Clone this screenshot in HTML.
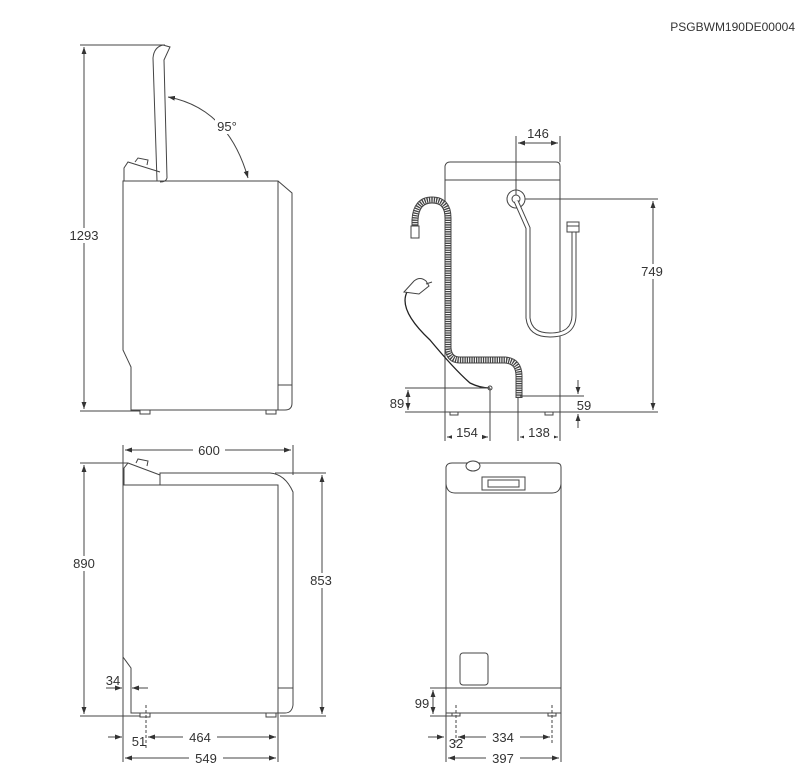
<!DOCTYPE html>
<html><head><meta charset="utf-8"><style>
html,body{margin:0;padding:0;background:#fff}
svg{display:block}
text{font-family:"Liberation Sans",sans-serif;font-size:13px;fill:#333}
</style></head><body>
<svg width="800" height="780" viewBox="0 0 800 780" xmlns="http://www.w3.org/2000/svg">
<defs>
<marker id="a" viewBox="0 0 10 10" refX="10" refY="5" markerWidth="7" markerHeight="7" orient="auto-start-reverse"><path d="M0,1.5 L10,5 L0,8.5 z" fill="#333"/></marker>
</defs>
<text x="795" y="31" text-anchor="end" style="font-size:12px">PSGBWM190DE00004</text>

<g fill="none" stroke="#444" stroke-width="1">
<line x1="80" y1="45" x2="165" y2="45"/>
<line x1="84" y1="47" x2="84" y2="409" marker-start="url(#a)" marker-end="url(#a)"/>
<line x1="80" y1="411" x2="140" y2="411"/>
<path d="M123,181 L123,350 L131,367 L131,410 L278,410 L278,181 Z"/>
<path d="M278,181 L292,193 L292,403 Q292,410 285,410 L278,410"/>
<line x1="278" y1="385" x2="292" y2="385"/>
<path d="M124,181 L124,168 L128,162 L160,172"/>
<path d="M135,162 L138,158 L148,160 L147,165"/>
<path d="M157,181 L153,58 Q154,47 163,45 L170,47 L164,60 L167,178 Q166,182 160,182"/>
<rect x="140" y="410" width="10" height="4"/><rect x="266" y="410" width="10" height="4"/>
<path d="M168,97 Q228,108 248,178" marker-start="url(#a)" marker-end="url(#a)"/>

<path d="M445,412 L445,166 Q446,162 450,162 L556,162 Q560,162 560,166 L560,412 Z"/>
<line x1="445" y1="180" x2="560" y2="180"/>
<rect x="450" y="412" width="8" height="3"/><rect x="545" y="412" width="8" height="3"/>
<circle cx="516" cy="199" r="9"/><circle cx="516" cy="199" r="4"/>
<line x1="516" y1="136" x2="516" y2="195"/>
<line x1="560" y1="136" x2="560" y2="162"/>
<line x1="518" y1="143" x2="558" y2="143" marker-start="url(#a)" marker-end="url(#a)"/>
<line x1="525" y1="199" x2="658" y2="199"/>
<line x1="405" y1="412" x2="658" y2="412"/>
<line x1="653" y1="201" x2="653" y2="410" marker-start="url(#a)" marker-end="url(#a)"/>
<path d="M516,201 L528,228 L528,318 Q530,335 550,335 Q574,335 574,315 L574,232" stroke-width="5" stroke="#444"/>
<path d="M516,201 L528,228 L528,318 Q530,335 550,335 Q574,335 574,315 L574,232" stroke-width="3" stroke="#fff"/>
<rect x="567" y="222" width="12" height="10" fill="#fff"/>
<line x1="567" y1="226" x2="579" y2="226"/>
<path d="M415,238 L415,220 Q416,200 432,200 Q448,200 448,218 L448,348 Q449,360 460,360 L505,360 Q519,361 519,376 L519,398" stroke="#444" stroke-width="7"/>
<path d="M415,238 L415,220 Q416,200 432,200 Q448,200 448,218 L448,348 Q449,360 460,360 L505,360 Q519,361 519,376 L519,398" stroke="#fff" stroke-width="5" stroke-dasharray="1 1.3"/>
<rect x="411" y="226" width="8" height="12" fill="#fff"/>
<path d="M407,292 Q398,310 430,340 Q455,370 470,383 Q480,388 490,388" stroke="#222" stroke-width="1.3"/>
<path d="M404,292 L414,281 Q420,276 426,281 L429,286 L419,294 Z" fill="#fff"/>
<line x1="426" y1="284" x2="432" y2="282"/>
<circle cx="490" cy="388" r="2"/>
<line x1="405" y1="388" x2="490" y2="388"/>
<line x1="408" y1="390" x2="408" y2="410" marker-start="url(#a)" marker-end="url(#a)"/>
<line x1="490" y1="388" x2="490" y2="441"/>
<line x1="445" y1="412" x2="445" y2="441"/>
<line x1="447" y1="437" x2="488" y2="437" marker-start="url(#a)" marker-end="url(#a)"/>
<line x1="518" y1="398" x2="518" y2="441"/>
<line x1="560" y1="412" x2="560" y2="441"/>
<line x1="520" y1="437" x2="558" y2="437" marker-start="url(#a)" marker-end="url(#a)"/>
<line x1="520" y1="396" x2="584" y2="396"/>
<line x1="578" y1="380" x2="578" y2="394" marker-end="url(#a)"/>
<line x1="578" y1="428" x2="578" y2="414" marker-end="url(#a)"/>

<line x1="123" y1="445" x2="123" y2="762"/>
<line x1="293" y1="445" x2="293" y2="475"/>
<line x1="125" y1="450" x2="291" y2="450" marker-start="url(#a)" marker-end="url(#a)"/>
<path d="M123,485 L123,657 L131,668 L131,713 L278,713 L278,485 Z"/>
<path d="M160,485 L160,473 L270,473 Q285,474 293,492 L293,705 Q292,713 285,713 L278,713"/>
<line x1="278" y1="688" x2="293" y2="688"/>
<path d="M124,485 L124,468 L128,463 L160,475"/>
<path d="M136,463 L138,459 L148,461 L147,466"/>
<rect x="140" y="713" width="10" height="4"/><rect x="266" y="713" width="10" height="4"/>
<line x1="80" y1="463" x2="128" y2="463"/>
<line x1="80" y1="716" x2="140" y2="716"/>
<line x1="84" y1="465" x2="84" y2="714" marker-start="url(#a)" marker-end="url(#a)"/>
<line x1="275" y1="473" x2="326" y2="473"/>
<line x1="278" y1="713" x2="278" y2="762"/>
<line x1="280" y1="716" x2="326" y2="716"/>
<line x1="322" y1="475" x2="322" y2="714" marker-start="url(#a)" marker-end="url(#a)"/>
<line x1="106" y1="688" x2="122" y2="688" marker-end="url(#a)"/>
<line x1="148" y1="688" x2="132" y2="688" marker-end="url(#a)"/>
<line x1="146" y1="705" x2="146" y2="748" stroke-dasharray="3 2"/>
<line x1="108" y1="737" x2="122" y2="737" marker-end="url(#a)"/>
<line x1="148" y1="737" x2="276" y2="737" marker-start="url(#a)" marker-end="url(#a)"/>
<line x1="125" y1="758" x2="276" y2="758" marker-start="url(#a)" marker-end="url(#a)"/>

<path d="M446,713 L446,467 Q447,463 452,463 L556,463 Q561,463 561,467 L561,713 Z"/>
<path d="M446,484 Q447,493 455,493 L552,493 Q560,493 561,484"/>
<line x1="446" y1="688" x2="561" y2="688"/>
<ellipse cx="473" cy="466" rx="7" ry="5" fill="#fff"/>
<rect x="482" y="477" width="43" height="13"/><rect x="488" y="480" width="31" height="7"/>
<rect x="460" y="653" width="28" height="32" rx="3"/>
<rect x="452" y="713" width="8" height="3"/><rect x="548" y="713" width="8" height="3"/>
<line x1="430" y1="688" x2="446" y2="688"/>
<line x1="430" y1="716" x2="458" y2="716"/>
<line x1="433" y1="690" x2="433" y2="714" marker-start="url(#a)" marker-end="url(#a)"/>
<line x1="456" y1="705" x2="456" y2="745" stroke-dasharray="3 2"/>
<line x1="552" y1="705" x2="552" y2="745" stroke-dasharray="3 2"/>
<line x1="446" y1="713" x2="446" y2="762"/>
<line x1="561" y1="713" x2="561" y2="762"/>
<line x1="428" y1="737" x2="444" y2="737" marker-end="url(#a)"/>
<line x1="458" y1="737" x2="550" y2="737" marker-start="url(#a)" marker-end="url(#a)"/>
<line x1="448" y1="758" x2="559" y2="758" marker-start="url(#a)" marker-end="url(#a)"/>
</g>

<g>
<rect x="215" y="119" width="24" height="15" fill="#fff"/>
<text x="227" y="131" text-anchor="middle">95°</text>
<rect x="66" y="228" width="36" height="15" fill="#fff"/>
<text x="84" y="240" text-anchor="middle">1293</text>
<text x="538" y="138" text-anchor="middle">146</text>
<rect x="636" y="264" width="34" height="15" fill="#fff"/>
<text x="652" y="276" text-anchor="middle">749</text>
<text x="397" y="408" text-anchor="middle">89</text>
<rect x="452" y="425" width="30" height="15" fill="#fff"/>
<text x="467" y="437" text-anchor="middle">154</text>
<rect x="524" y="425" width="30" height="15" fill="#fff"/>
<text x="539" y="437" text-anchor="middle">138</text>
<text x="584" y="410" text-anchor="middle">59</text>
<rect x="193" y="443" width="32" height="15" fill="#fff"/>
<text x="209" y="455" text-anchor="middle">600</text>
<rect x="68" y="556" width="32" height="15" fill="#fff"/>
<text x="84" y="568" text-anchor="middle">890</text>
<rect x="306" y="573" width="32" height="15" fill="#fff"/>
<text x="321" y="585" text-anchor="middle">853</text>
<text x="113" y="685" text-anchor="middle">34</text>
<text x="139" y="746" text-anchor="middle">51</text>
<rect x="183" y="730" width="34" height="15" fill="#fff"/>
<text x="200" y="742" text-anchor="middle">464</text>
<rect x="189" y="751" width="34" height="15" fill="#fff"/>
<text x="206" y="763" text-anchor="middle">549</text>
<text x="422" y="708" text-anchor="middle">99</text>
<text x="456" y="748" text-anchor="middle">32</text>
<rect x="486" y="730" width="34" height="15" fill="#fff"/>
<text x="503" y="742" text-anchor="middle">334</text>
<rect x="486" y="751" width="34" height="15" fill="#fff"/>
<text x="503" y="763" text-anchor="middle">397</text>
</g>
</svg>
</body></html>
